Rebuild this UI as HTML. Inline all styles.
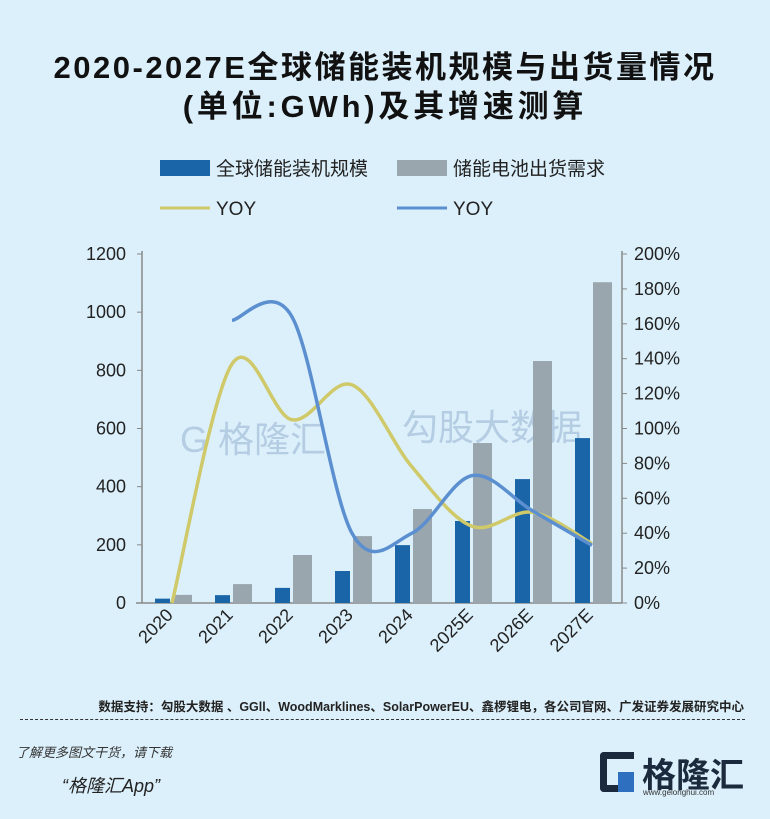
<!DOCTYPE html>
<html><head><meta charset="utf-8">
<style>
body{margin:0;background:#dcf0fb;}
#wrap{position:relative;width:770px;height:819px;overflow:hidden;background:#dcf0fb;font-family:"Liberation Sans","Noto Sans CJK SC",sans-serif;}
.t{position:absolute;white-space:nowrap;}
</style></head><body>
<div id="wrap">
<div class="t" style="left:0;width:770px;text-align:center;top:42px;font-size:31px;letter-spacing:2.5px;font-weight:bold;color:#111;">2020-2027E全球储能装机规模与出货量情况</div>
<div class="t" style="left:0;width:770px;text-align:center;top:81px;font-size:31px;letter-spacing:3.8px;font-weight:bold;color:#111;">(单位:GWh)及其增速测算</div>
<svg id="chart" width="770" height="819" style="position:absolute;left:0;top:0"></svg>
<div class="t" style="right:26px;top:696px;font-size:12.5px;font-weight:bold;color:#222;">数据支持：勾股大数据 、GGll、WoodMarklines、SolarPowerEU、鑫椤锂电，各公司官网、广发证券发展研究中心</div>
<div style="position:absolute;left:20px;top:719px;width:725px;border-top:1px dashed #333;"></div>
<div class="t" style="left:16px;top:742px;font-size:13px;font-style:italic;color:#333;">了解更多图文干货，请下载</div>
<div class="t" style="left:62px;top:772px;font-size:18px;font-style:italic;color:#222;">“格隆汇App”</div>
<div style="position:absolute;left:600px;top:752px;width:34px;height:40px;border:7px solid #1c2a3e;border-right:none;box-sizing:border-box;border-radius:4px 0 0 4px;"></div>
<div style="position:absolute;left:618px;top:772px;width:16px;height:20px;background:#2f6fc0;"></div>
<div class="t" style="left:642px;top:748px;font-size:34px;font-weight:bold;color:#1c2a3e;">格隆汇</div>
<div class="t" style="left:643px;top:788px;font-size:8px;color:#333;">www.gelonghui.com</div>
</div>
<script>
const categories=["2020","2021","2022","2023","2024","2025E","2026E","2027E"];
const installed=[15,27,52,110,199,282,426,567];
const shipments=[28,65,165,230,323,550,832,1103];
const yoyInstalled=[0,137,105,125,78,44,52,34];
const yoyShip=[null,162,164,40,40,73,53,33];
const leftTicks=[0,200,400,600,800,1000,1200];
const rightTicks=[0,20,40,60,80,100,120,140,160,180,200];
const NS="http://www.w3.org/2000/svg";
const svg=document.getElementById('chart');
const x0=142,x1=622,yb=603,yt=254;
const yL=v=>yb-(v/1200)*(yb-yt);
const yR=v=>yb-(v/200)*(yb-yt);
const step=(x1-x0)/categories.length;
const xc=i=>x0+step*(i+0.5);
function mk(t,a){const e=document.createElementNS(NS,t);for(const k in a)e.setAttribute(k,a[k]);svg.appendChild(e);return e;}
let w=mk('text',{x:180,y:452,'font-size':36,fill:'#b5cde3','font-family':'"Liberation Sans","Noto Sans CJK SC",sans-serif'});w.textContent='G 格隆汇';

w=mk('text',{x:402,y:440,'font-size':36,fill:'#b5cde3','font-family':'"Liberation Sans","Noto Sans CJK SC",sans-serif'});w.textContent='勾股大数据';

let a=mk('line',{x1:x0,y1:yt-3,x2:x0,y2:yb,stroke:'#888','stroke-width':1.5});

a=mk('line',{x1:x1,y1:yt-3,x2:x1,y2:yb,stroke:'#888','stroke-width':1.5});

a=mk('line',{x1:x0-6,y1:yb,x2:x1,y2:yb,stroke:'#888','stroke-width':1.5});

leftTicks.forEach(v=>{const y=yL(v);mk('line',{x1:x0-5,y1:y,x2:x0,y2:y,stroke:'#888'});
const t=mk('text',{x:126,y:y+6,'text-anchor':'end','font-size':18,fill:'#222','font-family':'Liberation Sans,sans-serif'});t.textContent=v;
});
rightTicks.forEach(v=>{const y=yR(v);mk('line',{x1:x1,y1:y,x2:x1+5,y2:y,stroke:'#888'});
const t=mk('text',{x:634,y:y+6,'font-size':18,fill:'#222','font-family':'Liberation Sans,sans-serif'});t.textContent=v+'%';
});
categories.forEach((c,i)=>{const t=mk('text',{x:xc(i)+2,y:616,'text-anchor':'end','font-size':18,fill:'#222','font-family':'Liberation Sans,sans-serif',transform:`rotate(-45 ${xc(i)+2} 616)`});t.textContent=c;
});
installed.forEach((v,i)=>{const b=mk('rect',{x:xc(i)-17,y:yL(v),width:15,height:yb-yL(v),fill:'#1a64a8'});
});
shipments.forEach((v,i)=>{const b=mk('rect',{x:xc(i)+1,y:yL(v),width:19,height:yb-yL(v),fill:'#9aa6ae'});
});
function smooth(pts){let d=`M${pts[0][0]},${pts[0][1]}`;for(let i=0;i<pts.length-1;i++){const p0=pts[i-1]||pts[i],p1=pts[i],p2=pts[i+1],p3=pts[i+2]||p2;
d+=` C${p1[0]+(p2[0]-p0[0])/6},${p1[1]+(p2[1]-p0[1])/6} ${p2[0]-(p3[0]-p1[0])/6},${p2[1]-(p3[1]-p1[1])/6} ${p2[0]},${p2[1]}`;}return d;}
const p1=[];yoyInstalled.forEach((v,i)=>{if(v!==null)p1.push([xc(i),yR(v)]);});
let l=mk('path',{d:smooth(p1),fill:'none',stroke:'#cfc96a','stroke-width':3.5});

const p2=[];yoyShip.forEach((v,i)=>{if(v!==null)p2.push([xc(i),yR(v)]);});
l=mk('path',{d:smooth(p2),fill:'none',stroke:'#5b8fd0','stroke-width':3.5});

function leg(name,shape,x,y,label){let s;if(shape.t==='rect')s=mk('rect',{x:x,y:y-8,width:50,height:16,fill:shape.c});else s=mk('line',{x1:x,y1:y,x2:x+50,y2:y,stroke:shape.c,'stroke-width':3});

const t=mk('text',{x:x+56,y:y+7,'font-size':19,fill:'#222','font-family':'"Liberation Sans","Noto Sans CJK SC",sans-serif'});t.textContent=label;
}
leg('legend-installed',{t:'rect',c:'#1a64a8'},160,168,'全球储能装机规模');
leg('legend-shipments',{t:'rect',c:'#9aa6ae'},397,168,'储能电池出货需求');
leg('legend-yoy-installed',{t:'line',c:'#cfc96a'},160,208,'YOY');
leg('legend-yoy-shipments',{t:'line',c:'#5b8fd0'},397,208,'YOY');
</script>
</body></html>
